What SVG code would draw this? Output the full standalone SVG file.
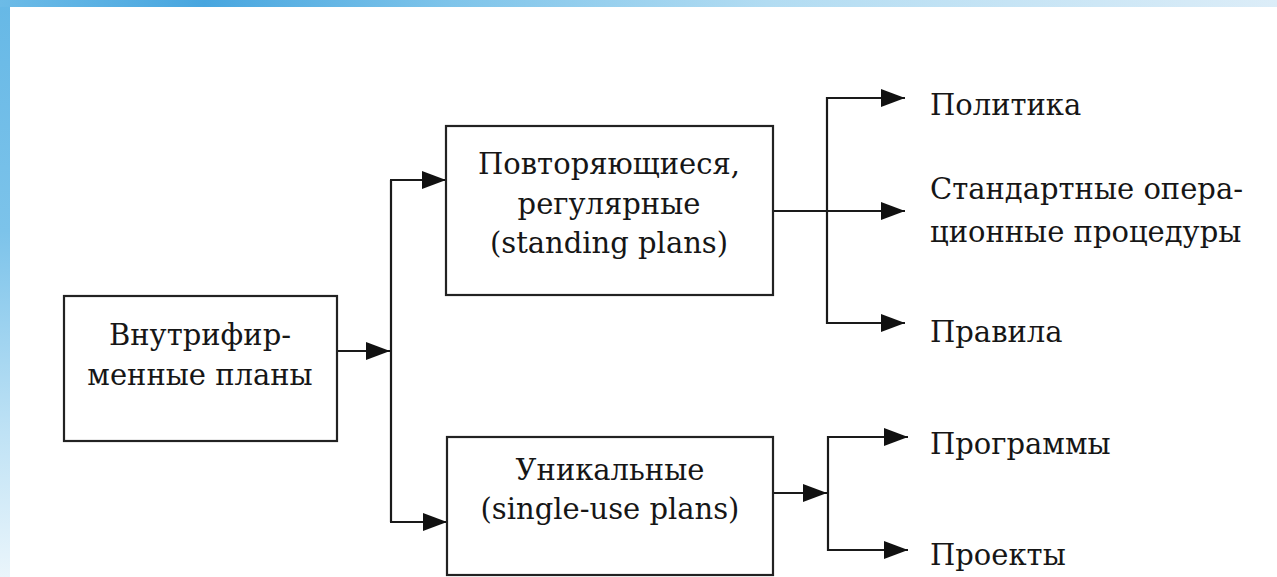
<svg xmlns="http://www.w3.org/2000/svg" width="1277" height="577" viewBox="0 0 1277 577">
  <style>
    .box { fill: #ffffff; stroke: #222222; stroke-width: 2.2; }
    text { font-family: 'DejaVu Serif', 'Liberation Serif', serif; font-size: 29px; fill: #161616; }
    .mid { text-anchor: middle; }
    .wire { fill: none; stroke: #1a1a1a; stroke-width: 2.2; }
  </style>
  <defs>
    <linearGradient id="topBand" x1="0" y1="0" x2="1" y2="0">
      <stop offset="0" stop-color="#6cbbe7"/>
      <stop offset="0.16" stop-color="#48a6df"/>
      <stop offset="0.35" stop-color="#7ec4ea"/>
      <stop offset="0.6" stop-color="#b2dcf2"/>
      <stop offset="1" stop-color="#dcedf8"/>
    </linearGradient>
    <linearGradient id="sideBand" x1="0" y1="0" x2="0" y2="1">
      <stop offset="0" stop-color="#66b8e6"/>
      <stop offset="0.4" stop-color="#7cc3ea"/>
      <stop offset="0.75" stop-color="#bfe2f5"/>
      <stop offset="1" stop-color="#eaf5fb"/>
    </linearGradient>
    <marker id="arrow" markerUnits="userSpaceOnUse" markerWidth="24" markerHeight="18" refX="24" refY="9" orient="auto">
      <path d="M0,0 L24,9 L0,18 Z" fill="#111111"/>
    </marker>
  </defs>

  <!-- page frame -->
  <rect x="0" y="0" width="1277" height="577" fill="#ffffff"/>
  <rect x="0" y="0" width="10" height="577" fill="url(#sideBand)"/>
  <rect x="0" y="0" width="1277" height="7" fill="url(#topBand)"/>

  <!-- connectors -->
  <g id="connectors">
    <path class="wire" d="M337,351 H390" marker-end="url(#arrow)"/>
    <path class="wire" d="M391,180 V522"/>
    <path class="wire" d="M390,180 H446" marker-end="url(#arrow)"/>
    <path class="wire" d="M390,522 H447" marker-end="url(#arrow)"/>

    <path class="wire" d="M773,211 H905" marker-end="url(#arrow)"/>
    <path class="wire" d="M827,97 V324"/>
    <path class="wire" d="M826,98 H905" marker-end="url(#arrow)"/>
    <path class="wire" d="M826,323 H905" marker-end="url(#arrow)"/>

    <path class="wire" d="M773,493 H827" marker-end="url(#arrow)"/>
    <path class="wire" d="M828,436 V551"/>
    <path class="wire" d="M827,437 H908" marker-end="url(#arrow)"/>
    <path class="wire" d="M827,550 H908" marker-end="url(#arrow)"/>
  </g>

  <g id="node-internal-plans">
    <rect class="box" x="64" y="296" width="273" height="145"/>
    <text class="mid" x="200" y="345">Внутрифир-</text>
    <text class="mid" x="200" y="385">менные планы</text>
  </g>

  <g id="node-standing">
    <rect class="box" x="446" y="126" width="327" height="169"/>
    <text class="mid" x="609" y="174">Повторяющиеся,</text>
    <text class="mid" x="609" y="214">регулярные</text>
    <text class="mid" x="609" y="253">(standing plans)</text>
  </g>

  <g id="node-single-use">
    <rect class="box" x="447" y="437" width="326" height="138"/>
    <text class="mid" x="610" y="480">Уникальные</text>
    <text class="mid" x="610" y="519">(single-use plans)</text>
  </g>

  <g id="node-policy">
    <text x="930" y="115">Политика</text>
  </g>
  <g id="node-sop">
    <text x="930" y="199">Стандартные опера-</text>
    <text x="930" y="242">ционные процедуры</text>
  </g>
  <g id="node-rules">
    <text x="930" y="342">Правила</text>
  </g>
  <g id="node-programs">
    <text x="930" y="454">Программы</text>
  </g>
  <g id="node-projects">
    <text x="930" y="565">Проекты</text>
  </g>
</svg>
